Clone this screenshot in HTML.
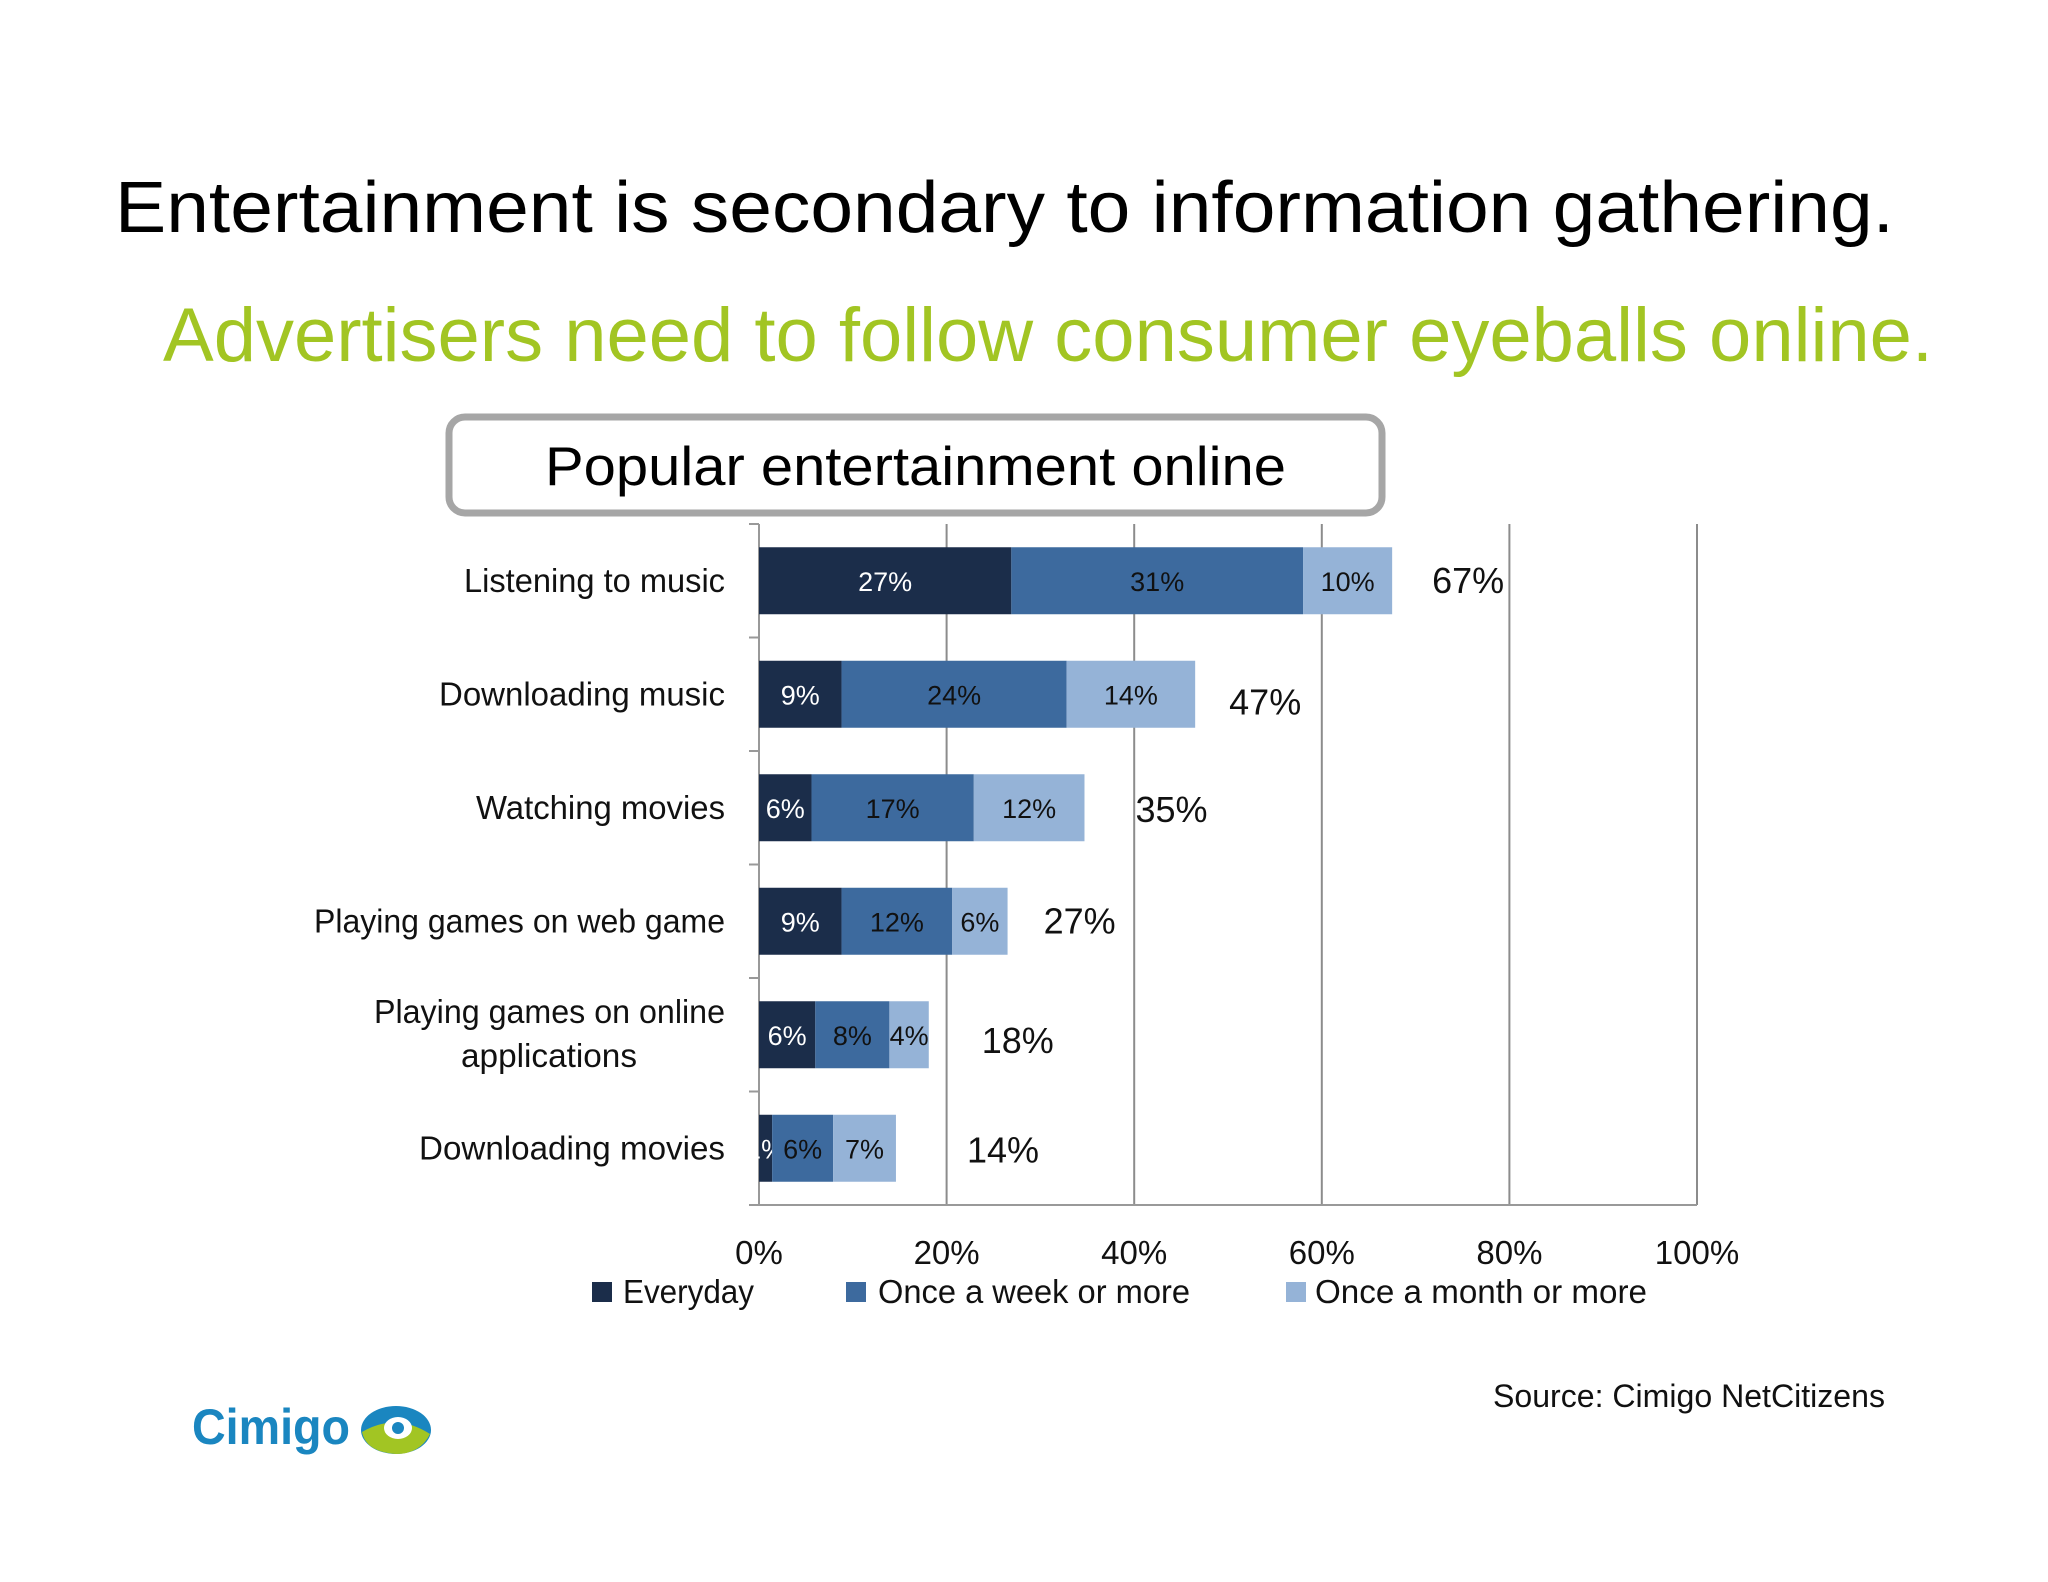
<!DOCTYPE html>
<html><head><meta charset="utf-8"><style>
html,body{margin:0;padding:0;background:#fff}
svg{display:block;font-family:"Liberation Sans",sans-serif}
</style></head><body>
<svg id="s" width="2048" height="1582" viewBox="0 0 2048 1582" xmlns="http://www.w3.org/2000/svg">
<text x="115" y="232" font-size="72" fill="#000" textLength="1779" lengthAdjust="spacingAndGlyphs">Entertainment is secondary to information gathering.</text>
<text x="163" y="361" font-size="76" fill="#a2c523" textLength="1770" lengthAdjust="spacingAndGlyphs">Advertisers need to follow consumer eyeballs online.</text>
<rect x="449" y="417" width="933" height="96" rx="16" fill="#fff" stroke="#a6a6a6" stroke-width="7"/>
<text x="545" y="485" font-size="55" fill="#000" textLength="741" lengthAdjust="spacingAndGlyphs">Popular entertainment online</text>
<g id="grid"></g>
<g id="bars"></g>
<g id="cats"></g>
<g id="ticks"></g>
<g>
<rect x="592" y="1282" width="20" height="20" fill="#1b2d4a"/>
<text x="623" y="1303" font-size="33" textLength="131" lengthAdjust="spacingAndGlyphs" fill="#111">Everyday</text>
<rect x="846" y="1282" width="20" height="20" fill="#3d6a9e"/>
<text x="878" y="1303" font-size="33" textLength="312" lengthAdjust="spacingAndGlyphs" fill="#111">Once a week or more</text>
<rect x="1286" y="1282" width="20" height="20" fill="#95b3d7"/>
<text x="1315" y="1303" font-size="33" textLength="332" lengthAdjust="spacingAndGlyphs" fill="#111">Once a month or more</text>
</g>
<text x="1493" y="1407" font-size="32" fill="#111" textLength="392" lengthAdjust="spacingAndGlyphs">Source: Cimigo NetCitizens</text>
<g>
<text x="192" y="1444" font-size="50" font-weight="bold" fill="#1a86c0" textLength="158" lengthAdjust="spacingAndGlyphs">Cimigo</text>
<ellipse cx="396" cy="1430" rx="35" ry="24" fill="#1a86c0"/>
<path d="M362,1432 Q396,1412 430,1434 Q420,1454 396,1454 Q366,1452 362,1432Z" fill="#a2c523"/>
<ellipse cx="398" cy="1428" rx="14" ry="11" fill="#fff"/>
<circle cx="398" cy="1428" r="6" fill="#1a86c0"/>
</g>
</svg>
<script>
const categories=["Listening to music","Downloading music","Watching movies","Playing games on web game","Playing games on online|applications","Downloading movies"];
const everyday=[26.9,8.8,5.6,8.8,6.0,1.4];
const weekly=[31.1,24.0,17.3,11.8,7.9,6.5];
const monthly=[9.5,13.7,11.8,5.9,4.2,6.7];
const everydayLabels=["27%","9%","6%","9%","6%","1%"];
const weeklyLabels=["31%","24%","17%","12%","8%","6%"];
const monthlyLabels=["10%","14%","12%","6%","4%","7%"];
const totalLabels=["67%","47%","35%","27%","18%","14%"];
const tickValues=[0,20,40,60,80,100];
const tickLabels=["0%","20%","40%","60%","80%","100%"];

const NS="http://www.w3.org/2000/svg";
const X0=759,X1=1697,YT=524,YB=1205;
const xs=v=>X0+(X1-X0)*v/100;
const band=(YB-YT)/categories.length;
const yc=i=>YT+(i+0.5)*band;
const barH=67;
// layout-only tweaks (label gaps / widths)
const totalGap=[40,34,51,36,53,71];
const totalDy=[0,8,2,0,6,2];
const labelW=[261,286,249,411,351,306];
function mk(tag,attrs,parent){const e=document.createElementNS(NS,tag);for(const k in attrs)e.setAttribute(k,attrs[k]);parent.appendChild(e);return e;}
const grid=document.getElementById('grid'),bars=document.getElementById('bars'),cats=document.getElementById('cats'),ticks=document.getElementById('ticks');
tickValues.forEach((v,i)=>{
  const l=mk('line',{x1:xs(v),x2:xs(v),y1:YT,y2:YB,stroke:i==0?'#999':'#8c8c8c','stroke-width':2},grid);
  
  
  const t=mk('text',{x:xs(v),y:YB+59,'font-size':33,'text-anchor':'middle',fill:'#111'},ticks);
  t.textContent=tickLabels[i];
  
  
});
const ax=mk('line',{x1:X0-10,x2:X1,y1:YB,y2:YB,stroke:'#999','stroke-width':2},grid);


for(let i=0;i<=categories.length;i++){
  const tk=mk('line',{x1:X0-10,x2:X0,y1:YT+i*band,y2:YT+i*band,stroke:'#999','stroke-width':2},grid);
  
  
}
const series=[[everyday,everydayLabels,'#1b2d4a','#fff'],[weekly,weeklyLabels,'#3d6a9e','#111'],[monthly,monthlyLabels,'#95b3d7','#111']];
categories.forEach((c,i)=>{
  let acc=0;
  series.forEach((s,k)=>{
    const v=s[0][i];
    const r=mk('rect',{x:xs(acc),y:yc(i)-barH/2,width:xs(acc+v)-xs(acc),height:barH,fill:s[2]},bars);
    
    
    const t=mk('text',{x:(xs(acc)+xs(acc+v))/2,y:yc(i)+10,'font-size':27,'text-anchor':'middle',fill:s[3]},bars);
    t.textContent=s[1][i];
    
    
    acc+=v;
  });
  const tt=mk('text',{x:xs(acc)+totalGap[i],y:yc(i)+12+totalDy[i],'font-size':36,fill:'#111'},bars);
  tt.textContent=totalLabels[i];
  
  
  const parts=c.split('|');
  if(parts.length==1){
    const t=mk('text',{x:725,y:yc(i)+11,'font-size':33,'text-anchor':'end',fill:'#111',textLength:labelW[i],lengthAdjust:'spacingAndGlyphs'},cats);
    t.textContent=parts[0];
    
    
  }else{
    const t1=mk('text',{x:725,y:yc(i)-12,'font-size':33,'text-anchor':'end',fill:'#111',textLength:labelW[i],lengthAdjust:'spacingAndGlyphs'},cats);
    t1.textContent=parts[0];
    
    
    const t2=mk('text',{x:549,y:yc(i)+32,'font-size':33,'text-anchor':'middle',fill:'#111',textLength:176,lengthAdjust:'spacingAndGlyphs'},cats);
    t2.textContent=parts[1];
    
    
  }
});
</script>
</body></html>
